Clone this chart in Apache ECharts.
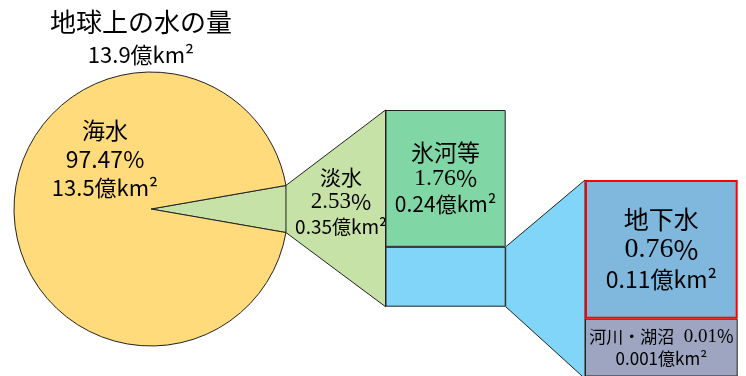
<!DOCTYPE html>
<html>
<head>
<meta charset="utf-8">
<script src="https://cdn.jsdelivr.net/npm/echarts@6/dist/echarts.min.js"></script>
<style>
  html, body { margin: 0; background: #fff; }
  #main { width: 746px; height: 376px; }
</style>
</head>
<body>
<div id="main"></div>
<script>
// data
const titleText = '地球上の水の量';
const totalVolume = 13.9;
const pieNames = ['淡水', '海水'];
const pieShares = [2.53, 97.47];
const pieVolumes = [0.35, 13.5];
const freshNames = ['氷河等', '地下水', '河川・湖沼'];
const freshShares = [1.76, 0.76, 0.01];
const freshVolumes = [0.24, 0.11, 0.001];
const unit = '億km²';

const JP = '"Noto Sans CJK JP", sans-serif';
const SERIF = '"Liberation Serif", serif';

// layout
const pieCenter = [151, 209];
const pieR = 137;
const wedgeDeg = 19.8; // fresh water wedge is drawn wider than its share
const g1 = {left: 385.5, top: 110, width: 120.2, height: 196.7};
const g2 = {left: 585, top: 180, width: 152.7, height: 196};
const riverMinH = 60;

const underground = +(freshShares[1] + freshShares[2]).toFixed(2);
const freshTotal = +(freshShares[0] + underground).toFixed(2);

function rich(nameSize, pSize, vSize, lh) {
  return {
    n: {fontFamily: JP, fontSize: nameSize, lineHeight: lh, color: '#000'},
    p: {fontFamily: SERIF, fontSize: pSize, lineHeight: lh, color: '#000'},
    s: {fontFamily: JP, fontSize: pSize - 1, lineHeight: lh, color: '#000'},
    v: {fontFamily: JP, fontSize: vSize, lineHeight: lh, color: '#000'}
  };
}

function block(name, share, vol, sansPct) {
  const p = sansPct ? '{s|' + share + '%}' : '{p|' + share + '}{s|%}';
  return '{n|' + name + '}\n' + p + '\n{v|' + vol + unit + '}';
}

const chart = echarts.init(document.getElementById('main'));

const option = {
  animation: false,
  grid: [
    {left: g1.left, top: g1.top, width: g1.width, height: g1.height},
    {left: g2.left, top: g2.top, width: g2.width, height: g2.height}
  ],
  xAxis: [
    {gridIndex: 0, type: 'category', data: [pieNames[0]], show: false},
    {gridIndex: 1, type: 'category', data: [freshNames[1]], show: false}
  ],
  yAxis: [
    {gridIndex: 0, type: 'value', inverse: true, min: 0, max: freshTotal, show: false},
    // groundwater fills ~139px of this 196px grid
    {gridIndex: 1, type: 'value', inverse: true, min: 0, max: 1.074, show: false}
  ],
  series: [
    {
      type: 'pie',
      center: pieCenter,
      radius: pieR,
      startAngle: wedgeDeg / 2,
      minAngle: wedgeDeg,
      clockwise: true,
      silent: true,
      label: {show: false},
      labelLine: {show: false},
      itemStyle: {borderColor: '#222', borderWidth: 1},
      data: [
        {name: pieNames[0], value: pieShares[0], itemStyle: {color: '#C6E2A6'}},
        {name: pieNames[1], value: pieShares[1], itemStyle: {color: '#FFDB7B'}}
      ]
    },
    {
      type: 'bar', xAxisIndex: 0, yAxisIndex: 0, stack: 'fresh',
      barWidth: '100%', silent: true, z: 5,
      data: [freshShares[0]],
      itemStyle: {color: '#80D7A5', borderColor: '#222', borderWidth: 1},
      label: {
        show: true, position: 'inside',
        formatter: block(freshNames[0], freshShares[0], freshVolumes[0]),
        rich: rich(23, 24, 21, 26)
      }
    },
    {
      type: 'bar', xAxisIndex: 0, yAxisIndex: 0, stack: 'fresh',
      barWidth: '100%', silent: true, z: 5,
      data: [underground],
      itemStyle: {color: '#80D5F8', borderColor: '#222', borderWidth: 1}
    },
    {
      type: 'bar', xAxisIndex: 1, yAxisIndex: 1, stack: 'under',
      barWidth: '100%', silent: true, z: 7,
      data: [freshShares[1]],
      itemStyle: {color: '#7FB7DD', borderColor: '#FF0000', borderWidth: 2},
      label: {
        show: true, position: 'inside',
        formatter: block(freshNames[1], freshShares[1], freshVolumes[1]),
        rich: rich(25, 28, 23, 30)
      }
    },
    {
      type: 'bar', xAxisIndex: 1, yAxisIndex: 1, stack: 'under',
      barWidth: '100%', silent: true, z: 6,
      barMinHeight: riverMinH,
      data: [freshShares[2]],
      itemStyle: {color: '#9DA5C1', borderColor: '#222', borderWidth: 1},
      label: {
        show: true, position: 'inside',
        formatter: '{n|' + freshNames[2] + '}{p|  ' + freshShares[2] + '}{s|%}\n{v|' + freshVolumes[2] + unit + '}',
        rich: rich(17, 19, 17, 22)
      }
    }
  ]
};

chart.setOption(option);

// connecting trapezoids, placed from the axes
const y1 = v => chart.convertToPixel({yAxisIndex: 0}, v);
const y2 = v => chart.convertToPixel({yAxisIndex: 1}, v);
const a = wedgeDeg / 2 * Math.PI / 180;
const chordX = pieCenter[0] + pieR * Math.cos(a);
const g1Right = g1.left + g1.width;

const seaRich = rich(23, 23, 22, 29);
seaRich.s.fontSize = 23;
const freshRich = rich(21, 23, 19, 25);

chart.setOption({
  graphic: [
    {
      type: 'polygon', z: 3, silent: true,
      shape: {points: [
        [chordX, pieCenter[1] - pieR * Math.sin(a)],
        [g1.left, y1(0)],
        [g1.left, y1(freshTotal)],
        [chordX, pieCenter[1] + pieR * Math.sin(a)]
      ]},
      style: {fill: '#C6E2A6', stroke: '#222', lineWidth: 1}
    },
    {
      type: 'polygon', z: 3, silent: true,
      shape: {points: [
        [g1Right, y1(freshShares[0])],
        [g2.left, y2(0)],
        [g2.left, y2(freshShares[1]) + riverMinH],
        [g1Right, y1(freshTotal)]
      ]},
      style: {fill: '#80D5F8', stroke: '#222', lineWidth: 1}
    },
    {
      type: 'text', z: 10, x: 141, y: 22,
      style: {text: titleText, font: '26px ' + JP, fill: '#000', align: 'center', verticalAlign: 'middle'}
    },
    {
      type: 'text', z: 10, x: 141, y: 55,
      style: {text: totalVolume + unit, font: '22px ' + JP, fill: '#000', align: 'center', verticalAlign: 'middle'}
    },
    {
      type: 'text', z: 10, x: 105, y: 159,
      style: {
        text: block(pieNames[1], pieShares[1], pieVolumes[1], true),
        rich: seaRich, align: 'center', verticalAlign: 'middle'
      }
    },
    {
      type: 'text', z: 10, x: 341, y: 202,
      style: {
        text: block(pieNames[0], pieShares[0], pieVolumes[0]),
        rich: freshRich, align: 'center', verticalAlign: 'middle'
      }
    }
  ]
});
</script>
</body>
</html>
